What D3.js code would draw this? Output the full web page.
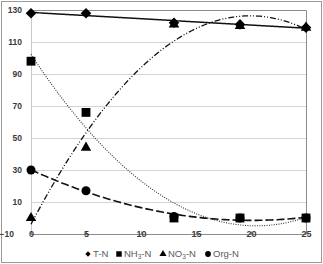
<!DOCTYPE html>
<html>
<head>
<meta charset="utf-8">
<script src="https://cdn.jsdelivr.net/npm/d3@7"></script>
<style>
  html, body { margin: 0; padding: 0; background: #fff; }
  svg { display: block; font-family: "Liberation Sans", Arial, sans-serif; }
</style>
</head>
<body>
<script>
const width = 323;
const height = 264;

// sampling days
const days = [0, 5, 13, 19, 25];
// series values
const tN = [128, 128, 122, 121, 119];
const nh3N = [98, 66, 0, 0, 0];
const no3N = [0, 44, 121, 120, 119];
const orgN = [30, 17, 1, 0, 0];

const yTicks = [-10, 10, 30, 50, 70, 90, 110, 130];
const xTicks = [0, 5, 10, 15, 20, 25];

const series = [
  { name: "T-N", sub: null, values: tN, symbol: "diamond", order: 1, dash: null, sw: 1.5, stroke: "#111" },
  { name: "NH", sub: "3", tail: "-N", values: nh3N, symbol: "square", order: 2, dash: "1 1.4", sw: 1.1, stroke: "#333" },
  { name: "NO", sub: "3", tail: "-N", values: no3N, symbol: "triangle", order: 2, dash: "6 2 1 2 1 2", sw: 1.3, stroke: "#111" },
  { name: "Org-N", sub: null, values: orgN, symbol: "circle", order: 2, dash: "8 3", sw: 1.6, stroke: "#111" }
];

const x = d3.scaleLinear().domain([0, 25]).range([31, 306]);
const y = d3.scaleLinear().domain([-10, 130]).range([234, 10]);

// least squares polynomial fit (what the excel trendline does)
function polyfit(xs, ys, order) {
  const n = order + 1;
  const A = d3.range(n).map(() => d3.range(n + 1).map(() => 0));
  xs.forEach((xv, k) => {
    for (let i = 0; i < n; i++) {
      for (let j = 0; j < n; j++) A[i][j] += Math.pow(xv, i + j);
      A[i][n] += ys[k] * Math.pow(xv, i);
    }
  });
  for (let i = 0; i < n; i++) {
    let p = i;
    for (let r = i + 1; r < n; r++) if (Math.abs(A[r][i]) > Math.abs(A[p][i])) p = r;
    [A[i], A[p]] = [A[p], A[i]];
    for (let r = 0; r < n; r++) {
      if (r === i) continue;
      const f = A[r][i] / A[i][i];
      for (let c = i; c <= n; c++) A[r][c] -= f * A[i][c];
    }
  }
  const coef = A.map((row, i) => row[n] / row[i]);
  return xv => coef.reduce((s, c, i) => s + c * Math.pow(xv, i), 0);
}

const svg = d3.select(document.body).append("svg")
  .attr("width", width)
  .attr("height", height);

// chart border
svg.append("rect")
  .attr("x", 1.5).attr("y", 1.5)
  .attr("width", width - 3).attr("height", height - 3)
  .attr("fill", "none").attr("stroke", "#9a9a9a");

// gridlines
svg.append("g")
  .selectAll("line")
  .data(yTicks.filter(d => d > -10 && d < 130))
  .join("line")
  .attr("x1", x(0)).attr("x2", x(25))
  .attr("y1", d => y(d) + 0.5).attr("y2", d => y(d) + 0.5)
  .attr("stroke", "#d4d4d4");

// plot frame top/right
svg.append("path")
  .attr("d", `M${x(0)},${y(130) + 0.5}H${x(25) + 0.5}V${y(-10)}`)
  .attr("fill", "none").attr("stroke", "#8c8c8c");

// y axis line
svg.append("line")
  .attr("x1", x(0) + 0.5).attr("x2", x(0) + 0.5)
  .attr("y1", y(130)).attr("y2", y(-10))
  .attr("stroke", "#c8c8c8");

// x axis
const xAxis = svg.append("g")
  .attr("transform", `translate(0,${y(-10) + 0.5})`)
  .call(d3.axisBottom(x).tickValues(xTicks).tickSize(3).tickSizeOuter(0));
xAxis.select(".domain").attr("stroke", "#8c8c8c").attr("d", `M${x(0)},0H${x(25)}`);
xAxis.selectAll(".tick line").attr("stroke", "#8c8c8c").attr("y2", -3);
xAxis.selectAll(".tick text")
  .attr("y", 0).attr("dy", "0.3em")
  .attr("font-size", 9).attr("font-weight", "bold")
  .attr("font-family", "Liberation Sans, Arial, sans-serif")
  .attr("fill", "#3a3a3a");

// y axis labels
const yAxis = svg.append("g")
  .attr("transform", `translate(${x(0)},0)`)
  .call(d3.axisLeft(y).tickValues(yTicks).tickSize(0).tickPadding(9));
yAxis.select(".domain").remove();
yAxis.selectAll(".tick text")
  .attr("font-size", 8.5).attr("font-weight", "bold")
  .attr("font-family", "Liberation Sans, Arial, sans-serif")
  .attr("fill", "#3a3a3a")
  .attr("dx", d => d === -10 ? -8 : 0);

// trendlines
const samples = d3.range(0, 25.001, 0.2);
const line = d3.line().x(d => x(d[0])).y(d => y(d[1]));
const trend = svg.append("g").attr("fill", "none");
series.forEach(s => {
  const f = polyfit(days, s.values, s.order);
  trend.append("path")
    .attr("d", line(samples.map(t => [t, f(t)])))
    .attr("stroke", s.stroke)
    .attr("stroke-width", s.sw)
    .attr("stroke-dasharray", s.dash);
});

// markers
const symbols = {
  diamond: d3.symbol(d3.symbolSquare, 56),
  square: d3.symbol(d3.symbolSquare, 78),
  triangle: d3.symbol(d3.symbolTriangle, 48),
  circle: d3.symbol(d3.symbolCircle, 64)
};
const marks = svg.append("g").attr("fill", "#000");
series.forEach(s => {
  marks.append("g")
    .selectAll("path")
    .data(days.map((d, i) => [d, s.values[i]]))
    .join("path")
    .attr("d", symbols[s.symbol])
    .attr("transform", d => `translate(${x(d[0])},${y(d[1])})` + (s.symbol === "diamond" ? " rotate(45)" : ""));
});

// legend
const legend = svg.append("g")
  .attr("font-size", 9.5)
  .attr("fill", "#5a5a5a")
  .attr("transform", `translate(0,254)`);
const legendX = [88, 119, 163, 208];
const legendSym = {
  diamond: d3.symbol(d3.symbolSquare, 14),
  square: d3.symbol(d3.symbolSquare, 30),
  triangle: d3.symbol(d3.symbolTriangle, 22),
  circle: d3.symbol(d3.symbolCircle, 26)
};
series.forEach((s, i) => {
  const g = legend.append("g").attr("transform", `translate(${legendX[i]},0)`);
  g.append("path")
    .attr("d", legendSym[s.symbol])
    .attr("fill", "#000")
    .attr("transform", s.symbol === "diamond" ? "rotate(45)" : null);
  const t = g.append("text").attr("x", 5).attr("dy", "0.35em");
  t.append("tspan").text(s.name);
  if (s.sub) {
    t.append("tspan").attr("font-size", 6.5).attr("dy", 2).text(s.sub);
    t.append("tspan").attr("dy", -2).text(s.tail);
  }
});
</script>
</body>
</html>
